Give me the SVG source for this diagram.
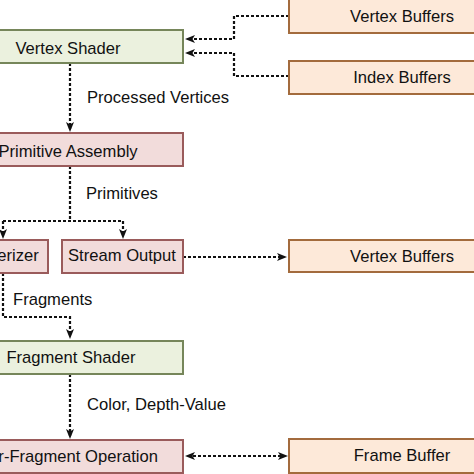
<svg xmlns="http://www.w3.org/2000/svg" width="474" height="474" viewBox="0 0 474 474">
<style>
.green{fill:#ebf1de;stroke:#76865a;stroke-width:2}
.pink{fill:#f2dcdb;stroke:#9a5b5b;stroke-width:2}
.orange{fill:#fde9d9;stroke:#a36b3d;stroke-width:2}
text{font-family:"Liberation Sans",Arial,sans-serif;font-size:16.6px;fill:#111}
.c{text-anchor:middle}
.conn path{fill:none;stroke:#111;stroke-width:2.2;stroke-dasharray:3 2}
</style>
<defs>
<marker id="ah" viewBox="0 0 10 8" markerWidth="10" markerHeight="8" refX="7" refY="4" markerUnits="userSpaceOnUse" orient="auto-start-reverse">
<path d="M0,0 L10,4 L0,8 L2.5,4 z" fill="#111"/>
</marker>
</defs>
<rect width="474" height="474" fill="#ffffff"/>
<g class="conn" id="connectors">
<path d="M289,16 H234 V39 H188" marker-end="url(#ah)"/>
<path d="M289,76 H234 V53 H188" marker-end="url(#ah)"/>
<path d="M70,63 V129" marker-end="url(#ah)"/>
<path d="M70,166 V221"/>
<path d="M3,221 H123"/>
<path d="M3,221 V236" marker-end="url(#ah)"/>
<path d="M123,221 V236" marker-end="url(#ah)"/>
<path d="M183,257 H284" marker-end="url(#ah)"/>
<path d="M3,273 V317 H70 V336" marker-end="url(#ah)"/>
<path d="M70,374 V436" marker-end="url(#ah)"/>
<path d="M188,456 H285" marker-start="url(#ah)" marker-end="url(#ah)"/>
</g>
<text x="87" y="103">Processed Vertices</text>
<text x="86" y="199">Primitives</text>
<text x="13" y="305">Fragments</text>
<text x="87" y="410">Color, Depth-Value</text>
<g id="vertex-shader"><rect class="green" x="-45" y="30" width="228" height="33"/><text class="c" x="68" y="54">Vertex Shader</text></g>
<g id="primitive-assembly"><rect class="pink" x="-45" y="133" width="228" height="33"/><text class="c" x="68" y="157">Primitive Assembly</text></g>
<g id="rasterizer"><rect class="pink" x="-42" y="240" width="90" height="33"/><text class="c" x="1" y="261">Rasterizer</text></g>
<g id="stream-output"><rect class="pink" x="62" y="240" width="121" height="33"/><text class="c" x="122" y="261">Stream Output</text></g>
<g id="fragment-shader"><rect class="green" x="-45" y="341" width="228" height="33"/><text class="c" x="71" y="363">Fragment Shader</text></g>
<g id="per-fragment-operation"><rect class="pink" x="-45" y="440" width="228" height="33"/><text class="c" x="68" y="462">Per-Fragment Operation</text></g>
<g id="vertex-buffers-in"><rect class="orange" x="289" y="-2" width="226" height="35"/><text class="c" x="402" y="22">Vertex Buffers</text></g>
<g id="index-buffers"><rect class="orange" x="289" y="61" width="226" height="33"/><text class="c" x="402" y="83">Index Buffers</text></g>
<g id="vertex-buffers-out"><rect class="orange" x="289" y="240" width="226" height="32"/><text class="c" x="402" y="262">Vertex Buffers</text></g>
<g id="frame-buffer"><rect class="orange" x="289" y="439" width="226" height="34"/><text class="c" x="402" y="461">Frame Buffer</text></g>
</svg>
